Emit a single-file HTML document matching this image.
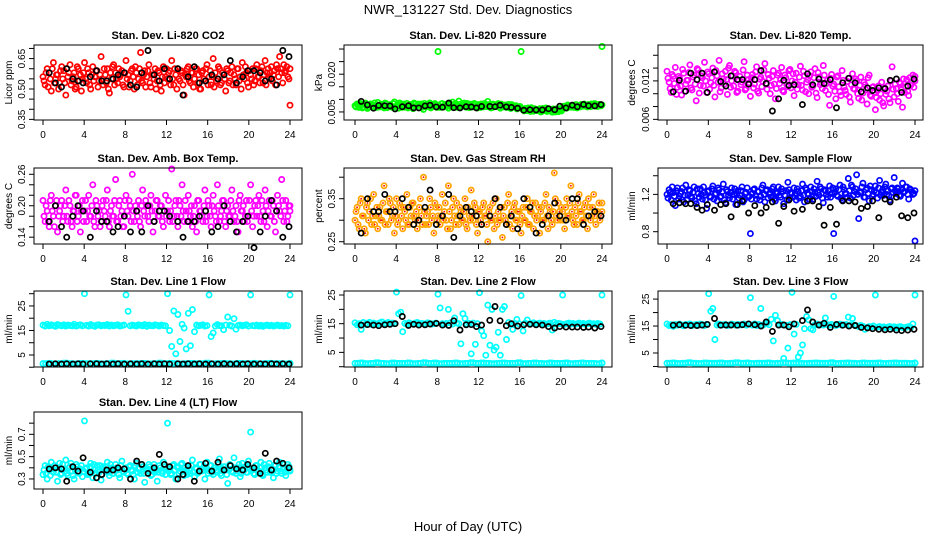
<!DOCTYPE html>
<html><head><meta charset="utf-8"><style>
html,body{margin:0;padding:0;background:#fff;}
svg{display:block;font-family:"Liberation Sans",sans-serif;}
</style></head><body>
<svg id="chart" width="936" height="540" viewBox="0 0 936 540" xmlns="http://www.w3.org/2000/svg">
<rect x="0" y="0" width="936" height="540" fill="#fff"/>
<text x="468" y="14" text-anchor="middle" font-size="13">NWR_131227  Std. Dev. Diagnostics</text>
<text x="468" y="531" text-anchor="middle" font-size="13">Hour of Day (UTC)</text>
</svg>
<script>
const blackHours=[0.6,1.2,1.8,2.3,2.9,3.4,3.9,4.6,5.2,5.7,6.2,6.8,7.3,7.9,8.5,9.1,9.6,10.2,10.8,11.3,11.8,12.3,13.1,13.6,14.1,14.7,15.2,15.8,16.4,17.0,17.6,18.2,18.8,19.4,19.9,20.5,21.1,21.6,22.2,22.7,23.3,23.9];
const xTicks=[0,4,8,12,16,20,24];

const co2Main=[0.56,0.52,0.60,0.58,0.49,0.63,0.55,0.57,0.53,0.61,0.59,0.47,0.56,0.62,0.54,0.58,0.51,0.60,0.57,0.55,0.63,0.53,0.58,0.50,0.61,0.56,0.59,0.54,0.66,0.52,0.57,0.60,0.48,0.55,0.62,0.58,0.53,0.56,0.59,0.51,0.64,0.57,0.54,0.60,0.50,0.58,0.55,0.68,0.53,0.59,0.56,0.62,0.51,0.57,0.60,0.54,0.58,0.49,0.61,0.56,0.55,0.59,0.64,0.52,0.57,0.60,0.54,0.58,0.47,0.56,0.61,0.53,0.58,0.55,0.60,0.57,0.50,0.59,0.54,0.62,0.56,0.52,0.65,0.58,0.55,0.60,0.53,0.57,0.49,0.59,0.54,0.61,0.57,0.52,0.60,0.56,0.63,0.55,0.58,0.51,0.57,0.60,0.54,0.62,0.56,0.59,0.53,0.64,0.58,0.55,0.61,0.57,0.52,0.60,0.66,0.58,0.62,0.59,0.56,0.42];
const co2Extra=[0.54,0.58,0.51,0.55,0.60,0.53,0.57,0.50,0.59,0.55,0.53,0.60,0.58,0.52,0.56,0.50,0.61,0.54,0.49,0.58,0.55,0.60,0.52,0.57,0.54,0.59,0.51,0.57,0.55,0.60,0.53,0.50,0.58,0.61,0.52,0.55,0.60,0.57,0.52,0.58,0.55,0.51,0.59,0.56,0.61,0.52,0.60,0.54,0.57,0.51,0.59,0.53,0.57,0.55,0.50,0.59,0.52,0.56,0.53,0.60,0.58,0.52,0.55,0.60,0.50,0.55,0.59,0.52,0.57,0.60,0.54,0.58,0.51,0.60,0.53,0.50,0.58,0.55,0.60,0.52,0.59,0.56,0.51,0.54,0.61,0.52,0.58,0.55,0.60,0.53,0.58,0.52,0.55,0.60,0.54,0.50,0.57,0.61,0.53,0.59,0.55,0.52,0.60,0.56,0.53,0.61,0.57,0.52,0.60,0.58,0.54,0.59,0.62,0.56,0.60,0.53,0.58,0.61,0.55,0.60];
const co2Black=[0.58,0.53,0.51,0.60,0.55,0.54,0.53,0.56,0.59,0.54,0.54,0.55,0.57,0.58,0.52,0.51,0.58,0.69,0.57,0.54,0.60,0.55,0.60,0.47,0.56,0.61,0.53,0.54,0.57,0.55,0.57,0.64,0.53,0.56,0.59,0.59,0.58,0.54,0.55,0.52,0.69,0.66];

const presMain=[0.0075,0.0082,0.0068,0.0079,0.0071,0.0085,0.0064,0.0077,0.0080,0.0069,0.0074,0.0088,0.0070,0.0078,0.0066,0.0083,0.0073,0.0079,0.0068,0.0090,0.0072,0.0065,0.0080,0.0076,0.0069,0.0084,0.0071,0.0078,0.0063,0.0081,0.0075,0.0067,0.0082,0.0060,0.0077,0.0072,0.0086,0.0070,0.0074,0.0079,0.0290,0.0068,0.0083,0.0073,0.0078,0.0065,0.0081,0.0089,0.0071,0.0076,0.0093,0.0069,0.0079,0.0074,0.0084,0.0067,0.0077,0.0072,0.0080,0.0066,0.0075,0.0082,0.0070,0.0078,0.0092,0.0073,0.0067,0.0079,0.0071,0.0083,0.0065,0.0076,0.0072,0.0068,0.0080,0.0064,0.0074,0.0070,0.0062,0.0069,0.0290,0.0058,0.0064,0.0055,0.0061,0.0067,0.0053,0.0060,0.0057,0.0063,0.0052,0.0059,0.0066,0.0054,0.0061,0.0049,0.0056,0.0062,0.0051,0.0058,0.0068,0.0072,0.0065,0.0074,0.0069,0.0077,0.0071,0.0066,0.0075,0.0080,0.0073,0.0078,0.0070,0.0076,0.0082,0.0074,0.0079,0.0072,0.0077,0.0310];
const presExtra=[0.0070,0.0078,0.0084,0.0066,0.0080,0.0074,0.0069,0.0082,0.0072,0.0086,0.0068,0.0076,0.0081,0.0071,0.0085,0.0067,0.0078,0.0072,0.0083,0.0070,0.0079,0.0086,0.0068,0.0081,0.0074,0.0066,0.0080,0.0071,0.0085,0.0073,0.0081,0.0076,0.0069,0.0084,0.0071,0.0080,0.0066,0.0078,0.0083,0.0068,0.0075,0.0082,0.0069,0.0079,0.0072,0.0086,0.0070,0.0077,0.0083,0.0068,0.0080,0.0074,0.0085,0.0069,0.0076,0.0081,0.0070,0.0084,0.0073,0.0079,0.0068,0.0076,0.0083,0.0071,0.0079,0.0066,0.0081,0.0072,0.0077,0.0069,0.0081,0.0070,0.0078,0.0073,0.0067,0.0079,0.0069,0.0075,0.0066,0.0072,0.0062,0.0054,0.0060,0.0066,0.0052,0.0058,0.0063,0.0055,0.0061,0.0050,0.0064,0.0056,0.0052,0.0060,0.0055,0.0062,0.0050,0.0057,0.0063,0.0054,0.0073,0.0066,0.0078,0.0070,0.0075,0.0068,0.0079,0.0073,0.0070,0.0077,0.0081,0.0072,0.0079,0.0071,0.0077,0.0083,0.0073,0.0080,0.0074,0.0078];
const presBlack=[0.0092,0.0078,0.0065,0.0076,0.0075,0.0074,0.0062,0.0071,0.0075,0.0066,0.0066,0.0074,0.0077,0.0070,0.0069,0.0085,0.0067,0.0066,0.0071,0.0070,0.0066,0.0072,0.0072,0.0071,0.0077,0.0070,0.0068,0.0065,0.0057,0.0059,0.0058,0.0058,0.0063,0.0059,0.0073,0.0066,0.0077,0.0071,0.0080,0.0075,0.0074,0.0079];

const tempMain=[0.0135,0.0118,0.0102,0.0127,0.0141,0.0110,0.0124,0.0098,0.0132,0.0115,0.0121,0.0145,0.0106,0.0129,0.0089,0.0137,0.0113,0.0125,0.0149,0.0102,0.0131,0.0117,0.0140,0.0095,0.0128,0.0152,0.0109,0.0123,0.0135,0.0099,0.0144,0.0120,0.0112,0.0133,0.0104,0.0127,0.0118,0.0150,0.0108,0.0122,0.0096,0.0130,0.0115,0.0142,0.0101,0.0126,0.0119,0.0147,0.0107,0.0124,0.0113,0.0136,0.0092,0.0129,0.0116,0.0141,0.0103,0.0125,0.0111,0.0138,0.0120,0.0097,0.0132,0.0114,0.0143,0.0106,0.0128,0.0118,0.0100,0.0134,0.0112,0.0139,0.0094,0.0126,0.0117,0.0144,0.0105,0.0121,0.0082,0.0130,0.0115,0.0092,0.0128,0.0103,0.0136,0.0110,0.0099,0.0124,0.0087,0.0131,0.0107,0.0120,0.0093,0.0126,0.0101,0.0114,0.0084,0.0129,0.0096,0.0111,0.0075,0.0105,0.0090,0.0118,0.0081,0.0099,0.0112,0.0086,0.0142,0.0095,0.0108,0.0088,0.0116,0.0079,0.0102,0.0122,0.0097,0.0113,0.0129,0.0120];
const tempExtra=[0.0124,0.0108,0.0130,0.0116,0.0099,0.0127,0.0112,0.0138,0.0104,0.0121,0.0133,0.0109,0.0126,0.0115,0.0139,0.0101,0.0128,0.0112,0.0120,0.0134,0.0107,0.0125,0.0113,0.0136,0.0118,0.0103,0.0131,0.0115,0.0122,0.0140,0.0110,0.0128,0.0135,0.0102,0.0121,0.0114,0.0137,0.0106,0.0129,0.0117,0.0125,0.0109,0.0134,0.0104,0.0123,0.0111,0.0137,0.0116,0.0130,0.0100,0.0127,0.0115,0.0108,0.0132,0.0122,0.0105,0.0129,0.0114,0.0136,0.0109,0.0131,0.0118,0.0107,0.0126,0.0113,0.0135,0.0103,0.0122,0.0128,0.0110,0.0125,0.0101,0.0133,0.0114,0.0108,0.0129,0.0116,0.0099,0.0124,0.0112,0.0104,0.0126,0.0111,0.0097,0.0121,0.0105,0.0119,0.0095,0.0114,0.0108,0.0123,0.0100,0.0113,0.0090,0.0118,0.0106,0.0125,0.0098,0.0110,0.0102,0.0094,0.0112,0.0100,0.0086,0.0109,0.0104,0.0092,0.0120,0.0107,0.0115,0.0100,0.0118,0.0106,0.0123,0.0111,0.0104,0.0125,0.0117,0.0110,0.0127];
const tempBlack=[0.0103,0.0121,0.0104,0.0132,0.0122,0.0132,0.0102,0.0134,0.0119,0.0112,0.0128,0.0122,0.0122,0.0115,0.0122,0.0136,0.0116,0.0073,0.0092,0.0121,0.0113,0.0114,0.0083,0.0131,0.0114,0.0123,0.0116,0.0122,0.0078,0.0117,0.0124,0.0117,0.0103,0.0109,0.0105,0.0109,0.0108,0.0121,0.0123,0.0102,0.0112,0.0123];

const ambMain=[0.21,0.17,0.19,0.16,0.22,0.18,0.20,0.15,0.19,0.21,0.18,0.23,0.17,0.20,0.16,0.19,0.22,0.18,0.15,0.21,0.19,0.17,0.22,0.18,0.24,0.16,0.20,0.19,0.17,0.21,0.18,0.23,0.16,0.20,0.18,0.25,0.17,0.21,0.19,0.16,0.22,0.18,0.20,0.26,0.17,0.19,0.21,0.16,0.23,0.18,0.20,0.17,0.22,0.15,0.19,0.21,0.18,0.20,0.16,0.22,0.19,0.17,0.27,0.18,0.21,0.16,0.20,0.24,0.17,0.19,0.22,0.18,0.16,0.20,0.15,0.21,0.19,0.17,0.23,0.18,0.20,0.16,0.22,0.18,0.24,0.17,0.19,0.21,0.16,0.20,0.18,0.23,0.17,0.20,0.15,0.22,0.19,0.17,0.21,0.18,0.24,0.16,0.20,0.18,0.22,0.17,0.19,0.23,0.16,0.21,0.18,0.20,0.15,0.22,0.19,0.25,0.17,0.21,0.18,0.20];
const ambExtra=[0.18,0.20,0.17,0.21,0.19,0.16,0.21,0.18,0.20,0.17,0.20,0.18,0.21,0.17,0.19,0.22,0.17,0.20,0.19,0.17,0.21,0.19,0.18,0.20,0.17,0.21,0.18,0.16,0.20,0.19,0.21,0.17,0.19,0.18,0.21,0.17,0.20,0.18,0.16,0.21,0.19,0.21,0.17,0.19,0.20,0.18,0.17,0.20,0.19,0.21,0.18,0.20,0.19,0.17,0.21,0.18,0.20,0.17,0.19,0.18,0.21,0.19,0.17,0.20,0.18,0.21,0.18,0.19,0.21,0.17,0.19,0.20,0.18,0.17,0.21,0.19,0.18,0.20,0.17,0.21,0.18,0.20,0.19,0.17,0.20,0.18,0.21,0.17,0.19,0.18,0.21,0.19,0.18,0.17,0.21,0.19,0.20,0.18,0.17,0.21,0.19,0.18,0.21,0.20,0.18,0.21,0.17,0.20,0.19,0.18,0.21,0.17,0.19,0.20,0.18,0.21,0.19,0.17,0.20,0.19];
const ambBlack=[0.17,0.20,0.16,0.14,0.18,0.20,0.19,0.14,0.19,0.17,0.17,0.15,0.16,0.18,0.15,0.19,0.15,0.20,0.17,0.19,0.19,0.18,0.17,0.14,0.17,0.17,0.18,0.19,0.15,0.16,0.20,0.17,0.15,0.17,0.18,0.12,0.15,0.18,0.21,0.19,0.14,0.16];

const rhMain=[0.30,0.33,0.28,0.35,0.31,0.27,0.34,0.32,0.29,0.36,0.31,0.28,0.33,0.30,0.38,0.32,0.29,0.34,0.31,0.27,0.35,0.30,0.33,0.28,0.32,0.36,0.29,0.31,0.34,0.30,0.28,0.33,0.31,0.40,0.29,0.32,0.35,0.30,0.27,0.33,0.31,0.29,0.36,0.32,0.30,0.38,0.28,0.33,0.31,0.34,0.29,0.32,0.30,0.35,0.28,0.31,0.37,0.30,0.33,0.27,0.32,0.29,0.34,0.31,0.25,0.33,0.30,0.28,0.35,0.32,0.30,0.26,0.33,0.29,0.36,0.31,0.28,0.34,0.30,0.32,0.27,0.33,0.30,0.35,0.29,0.32,0.28,0.34,0.31,0.27,0.33,0.30,0.36,0.28,0.32,0.29,0.41,0.31,0.34,0.30,0.32,0.28,0.35,0.31,0.38,0.30,0.33,0.29,0.36,0.32,0.30,0.34,0.28,0.33,0.31,0.36,0.29,0.32,0.30,0.34];
const rhExtra=[0.32,0.29,0.34,0.31,0.28,0.33,0.30,0.35,0.31,0.29,0.33,0.31,0.30,0.34,0.29,0.32,0.35,0.30,0.33,0.31,0.29,0.34,0.31,0.33,0.30,0.29,0.33,0.34,0.31,0.32,0.30,0.35,0.29,0.32,0.31,0.29,0.33,0.31,0.34,0.30,0.33,0.31,0.30,0.34,0.28,0.32,0.30,0.35,0.29,0.31,0.33,0.30,0.32,0.29,0.33,0.30,0.31,0.34,0.29,0.32,0.30,0.33,0.31,0.29,0.32,0.30,0.34,0.31,0.29,0.30,0.33,0.31,0.30,0.34,0.29,0.32,0.33,0.30,0.32,0.29,0.31,0.30,0.33,0.29,0.32,0.34,0.31,0.30,0.33,0.32,0.30,0.34,0.31,0.33,0.30,0.32,0.35,0.30,0.32,0.33,0.30,0.33,0.31,0.34,0.32,0.29,0.31,0.34,0.32,0.30,0.33,0.31,0.35,0.30,0.33,0.31,0.32,0.34,0.31,0.32];
const rhBlack=[0.27,0.35,0.32,0.32,0.36,0.32,0.32,0.35,0.33,0.29,0.30,0.33,0.37,0.29,0.31,0.36,0.26,0.31,0.33,0.32,0.31,0.29,0.31,0.35,0.33,0.29,0.31,0.28,0.35,0.33,0.27,0.29,0.31,0.34,0.31,0.30,0.35,0.35,0.29,0.31,0.32,0.31];

const flowMain=[1.20,1.25,1.14,1.22,1.08,1.27,1.18,1.23,1.12,1.30,1.19,1.24,1.16,1.28,1.10,1.21,1.26,1.15,1.22,1.05,1.24,1.17,1.29,1.20,1.13,1.25,1.18,1.31,1.11,1.23,1.16,1.27,1.20,1.09,1.24,1.19,1.28,1.14,1.22,1.17,0.78,1.21,1.26,1.15,1.23,1.18,1.30,1.12,1.25,1.20,1.17,1.28,1.13,1.22,1.19,1.26,1.10,1.24,1.33,1.16,1.21,1.27,1.14,1.23,1.18,1.31,1.12,1.25,1.20,1.28,1.15,1.22,1.34,1.19,1.26,1.11,1.24,1.17,1.29,1.21,0.78,1.26,1.18,1.30,1.14,1.25,1.21,1.37,1.16,1.28,1.23,1.41,0.94,1.22,1.32,1.17,1.27,1.13,1.25,1.20,1.29,1.16,1.35,1.22,1.19,1.31,1.24,1.14,1.27,1.38,1.21,1.26,1.18,1.32,1.23,1.28,1.15,1.25,1.20,0.70];
const flowExtra=[1.16,1.22,1.28,1.18,1.24,1.15,1.21,1.27,1.19,1.14,1.25,1.18,1.22,1.13,1.26,1.17,1.20,1.28,1.14,1.23,1.18,1.26,1.15,1.21,1.27,1.17,1.23,1.14,1.25,1.19,1.22,1.15,1.26,1.20,1.16,1.24,1.12,1.21,1.27,1.18,1.15,1.25,1.19,1.23,1.14,1.27,1.20,1.24,1.16,1.22,1.26,1.15,1.21,1.28,1.17,1.23,1.19,1.14,1.25,1.22,1.17,1.21,1.26,1.16,1.24,1.19,1.27,1.21,1.15,1.23,1.26,1.18,1.22,1.28,1.16,1.25,1.20,1.24,1.17,1.27,1.22,1.19,1.25,1.16,1.28,1.21,1.17,1.24,1.30,1.19,1.26,1.20,1.22,1.28,1.17,1.25,1.21,1.29,1.18,1.24,1.22,1.27,1.19,1.25,1.28,1.20,1.18,1.26,1.22,1.24,1.27,1.19,1.25,1.22,1.28,1.20,1.26,1.23,1.21,1.24];
const flowBlack=[1.10,1.11,1.10,1.10,1.06,1.03,1.09,1.03,1.09,1.10,0.96,1.09,1.13,1.00,1.08,1.00,1.06,1.12,0.89,1.07,1.14,1.02,1.04,1.13,1.13,1.07,0.87,1.06,0.88,1.13,1.13,1.12,1.05,1.07,1.13,0.95,1.15,1.12,1.17,0.97,0.95,1.00];

const line1Main=[17.2,16.8,17.5,16.9,17.3,17.0,16.7,17.4,17.1,16.9,17.3,16.8,17.2,17.0,16.9,17.5,16.8,17.1,17.3,16.9,30.0,17.1,16.8,17.4,17.0,16.7,17.2,17.3,16.9,17.1,17.0,17.4,16.8,17.2,16.9,17.1,17.3,16.8,17.0,17.2,29.5,22.8,16.9,17.2,17.0,16.8,17.3,17.1,16.9,17.4,16.7,17.2,17.0,16.9,17.3,17.1,16.8,17.2,17.0,16.9,30.0,15.0,8.5,23.0,5.5,21.5,10.5,17.5,16.0,7.5,22.0,8.8,23.5,14.5,17.2,16.9,17.1,17.3,16.8,17.0,29.5,12.5,14.0,16.8,17.4,17.0,16.9,15.3,17.2,20.5,17.1,16.8,19.8,15.5,17.0,17.2,16.9,17.1,17.3,16.8,29.5,17.0,16.9,17.2,16.8,17.1,16.7,17.0,17.2,16.9,17.1,16.8,17.0,17.2,16.9,17.0,16.8,17.1,16.9,29.5];
const line1Low=[1.5,1.6,1.4,1.5,1.7,1.5,1.4,1.6,1.5,1.5,1.6,1.4,1.5,1.7,1.5,1.6,1.4,1.5,1.5,1.6,1.4,1.5,1.7,1.5,1.6,1.5,1.4,1.5,1.6,1.5,1.5,1.7,1.4,1.5,1.6,1.5,1.4,1.6,1.5,1.5,1.6,1.4,1.5,1.6,1.5,1.5,1.4,1.6];
const line1Black=[1.3,1.4,1.3,1.4,1.3,1.4,1.3,1.4,1.4,1.3,1.4,1.3,1.4,1.3,1.4,1.3,1.4,1.3,1.4,1.3,1.4,1.3,1.4,1.3,1.4,1.3,1.4,1.3,1.4,1.3,1.4,1.3,1.4,1.3,1.4,1.3,1.4,1.3,1.4,1.3,1.4,1.3];

const line2Main=[15.3,14.6,15.0,13.0,15.4,14.8,15.1,15.5,14.7,15.2,15.0,14.9,15.3,15.6,14.8,15.1,15.4,14.9,15.2,15.0,26.0,18.5,19.0,12.2,15.1,14.8,15.3,15.0,14.9,15.2,15.4,14.8,15.1,15.0,14.7,15.3,15.1,14.9,15.0,15.2,25.3,20.5,15.0,14.8,15.1,20.0,15.3,14.9,17.0,15.2,15.0,8.0,18.5,16.8,14.8,15.1,4.5,15.2,7.8,15.0,25.8,12.5,10.8,4.0,21.5,7.5,20.0,5.8,6.8,12.0,4.0,20.0,21.0,9.5,15.4,14.8,13.0,15.1,16.5,15.0,24.8,12.5,15.2,16.3,14.9,15.1,15.3,14.8,15.0,15.2,14.9,15.1,14.8,15.0,15.2,12.8,15.5,14.9,15.1,15.0,25.0,14.8,15.0,15.2,14.9,15.1,14.8,15.0,15.2,14.9,15.1,14.8,15.0,15.2,14.9,15.0,14.8,15.1,14.9,25.0];
const line2Low=[1.2,1.3,1.1,1.2,1.4,1.2,1.1,1.3,1.2,1.2,1.3,1.1,1.2,1.4,1.2,1.3,1.1,1.2,1.2,1.3,1.1,1.2,1.4,1.2,1.3,1.2,1.1,1.2,1.3,1.2,1.2,1.4,1.1,1.2,1.3,1.2,1.1,1.3,1.2,1.2,1.3,1.1,1.2,1.3,1.2,1.2,1.1,1.3];
const line2Black=[14.5,14.7,14.5,14.3,14.6,14.8,15.0,17.5,14.4,14.8,14.5,14.6,14.9,15.1,14.5,14.4,16.0,12.8,14.6,14.7,14.0,14.5,16.2,21.0,16.0,14.3,15.0,14.2,14.6,14.8,14.6,14.5,14.0,13.5,14.0,13.8,13.8,13.8,13.7,13.8,13.5,14.0];

const line3Main=[15.8,15.2,15.5,14.9,15.6,15.3,15.7,15.4,15.1,15.6,15.5,15.8,15.2,15.4,15.6,15.3,15.7,15.5,15.2,15.6,27.0,20.5,21.5,10.0,15.4,15.7,15.3,15.5,15.6,15.2,15.4,15.7,15.5,15.3,15.6,15.4,15.5,15.7,15.3,15.6,25.5,15.4,15.8,15.2,15.6,21.5,15.3,15.7,16.0,15.5,17.5,9.5,19.0,17.0,15.4,15.6,3.0,15.3,6.8,15.5,27.5,12.0,15.6,3.5,5.0,8.0,14.0,18.5,17.3,14.0,13.6,15.5,15.7,15.3,15.6,15.4,18.0,15.5,15.3,15.6,26.0,15.2,15.5,15.7,15.3,15.5,15.6,18.3,15.4,17.8,15.3,15.1,14.8,15.2,14.9,13.8,14.5,14.8,14.6,15.0,26.5,14.6,14.8,14.5,14.7,14.4,14.6,14.8,14.5,14.7,14.3,14.6,14.8,14.5,14.4,14.6,14.8,14.5,15.8,26.5];
const line3Low=[1.2,1.3,1.1,1.2,1.4,1.2,1.1,1.3,1.2,1.2,1.3,1.1,1.2,1.4,1.2,1.3,1.1,1.2,1.2,1.3,1.1,1.2,1.4,1.2,1.3,1.2,1.1,1.2,1.3,1.2,1.2,1.4,1.1,1.2,1.3,1.2,1.1,1.3,1.2,1.2,1.3,1.1,1.2,1.3,1.2,1.2,1.1,1.3];
const line3Black=[15.3,15.5,15.3,15.2,15.2,15.4,15.6,17.8,15.3,15.4,15.4,15.3,15.5,15.8,15.5,15.0,16.5,13.0,15.4,15.4,14.7,15.8,17.0,21.0,16.5,15.4,16.0,14.5,15.6,15.3,15.0,15.2,14.5,14.3,14.0,13.8,13.6,13.8,13.5,13.3,13.5,13.8];

const line4Main=[0.34,0.42,0.30,0.38,0.45,0.36,0.40,0.28,0.44,0.35,0.39,0.47,0.33,0.41,0.37,0.30,0.43,0.36,0.39,0.32,0.82,0.40,0.35,0.44,0.31,0.38,0.42,0.36,0.29,0.41,0.37,0.45,0.33,0.40,0.35,0.43,0.38,0.31,0.46,0.36,0.40,0.34,0.42,0.37,0.30,0.44,0.39,0.35,0.41,0.27,0.38,0.43,0.33,0.40,0.36,0.28,0.42,0.37,0.45,0.34,0.80,0.39,0.35,0.43,0.30,0.40,0.37,0.44,0.33,0.38,0.41,0.35,0.47,0.32,0.39,0.36,0.43,0.38,0.30,0.45,0.37,0.42,0.34,0.40,0.36,0.48,0.33,0.41,0.38,0.26,0.43,0.37,0.49,0.35,0.40,0.32,0.44,0.38,0.36,0.46,0.72,0.39,0.34,0.42,0.37,0.45,0.33,0.40,0.36,0.44,0.38,0.31,0.42,0.37,0.45,0.35,0.40,0.33,0.43,0.38];
const line4Extra=[0.38,0.35,0.41,0.33,0.39,0.42,0.36,0.40,0.34,0.43,0.37,0.35,0.40,0.44,0.33,0.38,0.41,0.35,0.42,0.37,0.39,0.34,0.41,0.36,0.43,0.35,0.38,0.42,0.34,0.39,0.41,0.36,0.43,0.35,0.38,0.40,0.34,0.42,0.37,0.39,0.35,0.41,0.38,0.34,0.42,0.36,0.40,0.43,0.35,0.39,0.37,0.41,0.34,0.43,0.38,0.36,0.40,0.35,0.41,0.39,0.37,0.34,0.42,0.38,0.41,0.35,0.43,0.37,0.40,0.34,0.38,0.42,0.36,0.40,0.35,0.43,0.37,0.41,0.39,0.35,0.42,0.36,0.40,0.38,0.43,0.35,0.39,0.41,0.34,0.38,0.42,0.36,0.40,0.37,0.43,0.35,0.39,0.41,0.36,0.40,0.38,0.35,0.42,0.37,0.40,0.34,0.43,0.38,0.41,0.36,0.39,0.42,0.35,0.40,0.37,0.43,0.36,0.39,0.41,0.37];
const line4Black=[0.39,0.40,0.39,0.28,0.41,0.37,0.49,0.36,0.31,0.34,0.38,0.38,0.40,0.39,0.30,0.46,0.43,0.35,0.40,0.52,0.43,0.41,0.30,0.34,0.42,0.28,0.37,0.44,0.37,0.45,0.38,0.42,0.39,0.38,0.43,0.40,0.35,0.53,0.38,0.46,0.44,0.40];

const svg=document.getElementById('chart');
const NS='http://www.w3.org/2000/svg';
const cols=[{l:34,r:302,x0:43,x1:290,tl:8},{l:344,r:612,x0:355,x1:602,tl:318},{l:658,r:923,x0:667,x1:915,tl:631}];
const rows=[{t:45,b:120},{t:168,b:244},{t:291,b:367},{t:412,b:489}];
function mk(tag,attrs,parent){const e=document.createElementNS(NS,tag);for(const k in attrs)e.setAttribute(k,attrs[k]);(parent||svg).appendChild(e);return e;}

const panels=[
 {id:'co2',title:'Stan. Dev. Li-820 CO2',yt:'Licor ppm',c:0,r:0,dom:[0.347,0.717],ticks:[0.35,0.40,0.45,0.50,0.55,0.60,0.65,0.70],labs:['0.35','0.50','0.65'],series:[{v:co2Main,col:'#ff0000'},{v:co2Extra,col:'#ff0000',off:0.1},{v:co2Black,col:'#000',hrs:blackHours}]},
 {id:'pressure',title:'Stan. Dev. Li-820 Pressure',yt:'kPa',c:1,r:0,dom:[0.0018,0.0316],ticks:[0.005,0.010,0.015,0.020,0.025,0.030],labs:['0.005','0.020'],series:[{v:presMain,col:'#00ff00'},{v:presExtra,col:'#00ff00',off:0.1},{v:presBlack,col:'#000',hrs:blackHours}]},
 {id:'temp',title:'Stan. Dev. Li-820 Temp.',yt:'degrees C',c:2,r:0,dom:[0.0059,0.0176],ticks:[0.006,0.008,0.010,0.012,0.014,0.016],labs:['0.006','0.012'],series:[{v:tempMain,col:'#ff00ff'},{v:tempExtra,col:'#ff00ff',off:0.1},{v:tempBlack,col:'#000',hrs:blackHours}]},
 {id:'amb-box',title:'Stan. Dev. Amb. Box Temp.',yt:'degrees C',c:0,r:1,dom:[0.127,0.272],ticks:[0.14,0.16,0.18,0.20,0.22,0.24,0.26],labs:['0.14','0.20','0.26'],series:[{v:ambMain,col:'#ff00ff'},{v:ambExtra,col:'#ff00ff',off:0.1},{v:ambBlack,col:'#000',hrs:blackHours}]},
 {id:'rh',title:'Stan. Dev. Gas Stream RH',yt:'percent',c:1,r:1,dom:[0.2447,0.4214],ticks:[0.25,0.30,0.35,0.40],labs:['0.25','0.35'],series:[{v:rhMain,col:'#ffa500',dot:'#ff0000'},{v:rhExtra,col:'#ffa500',dot:'#ff0000',off:0.1},{v:rhBlack,col:'#000',hrs:blackHours}]},
 {id:'sample-flow',title:'Stan. Dev. Sample Flow',yt:'ml/min',c:2,r:1,dom:[0.668,1.483],ticks:[0.8,1.0,1.2,1.4],labs:['0.8','1.2'],series:[{v:flowMain,col:'#0000ff'},{v:flowExtra,col:'#0000ff',off:0.1},{v:flowBlack,col:'#000',hrs:blackHours}]},
 {id:'line1',title:'Stan. Dev. Line 1 Flow',yt:'ml/min',c:0,r:2,dom:[0.1,31.1],ticks:[0,5,10,15,20,25,30],labs:['5','15','25'],series:[{v:line1Low,col:'#00ffff'},{v:line1Low,col:'#00ffff',off:0.25},{v:line1Main,col:'#00ffff'},{v:line1Black,col:'#000',hrs:blackHours}]},
 {id:'line2',title:'Stan. Dev. Line 2 Flow',yt:'ml/min',c:1,r:2,dom:[-0.1,26.4],ticks:[0,5,10,15,20,25],labs:['5','15','25'],series:[{v:line2Low,col:'#00ffff'},{v:line2Low,col:'#00ffff',off:0.25},{v:line2Main,col:'#00ffff'},{v:line2Black,col:'#000',hrs:blackHours}]},
 {id:'line3',title:'Stan. Dev. Line 3 Flow',yt:'ml/min',c:2,r:2,dom:[-0.2,28],ticks:[0,5,10,15,20,25],labs:['5','15','25'],series:[{v:line3Low,col:'#00ffff'},{v:line3Low,col:'#00ffff',off:0.25},{v:line3Main,col:'#00ffff'},{v:line3Black,col:'#000',hrs:blackHours}]},
 {id:'line4',title:'Stan. Dev. Line 4 (LT) Flow',yt:'ml/min',c:0,r:3,dom:[0.21,0.90],ticks:[0.3,0.4,0.5,0.6,0.7,0.8],labs:['0.3','0.5','0.7'],series:[{v:line4Main,col:'#00ffff'},{v:line4Extra,col:'#00ffff',off:0.1},{v:line4Black,col:'#000',hrs:blackHours}]}
];

panels.forEach(p=>{
  const C=cols[p.c],R=rows[p.r];
  const g=mk('g',{});
  
  
  const xs=h=>C.x0+(h/24)*(C.x1-C.x0);
  const ys=v=>R.b-(v-p.dom[0])/(p.dom[1]-p.dom[0])*(R.b-R.t);
  const t=mk('text',{x:(C.l+C.r)/2,y:R.t-6,'text-anchor':'middle','font-size':'11','font-weight':'bold'},g);
  t.textContent=p.title;
  
  
  const clip=mk('g',{},g);
  
  
  p.series.forEach(s=>{
    const n=s.v.length;
    s.v.forEach((v,i)=>{
      let h=s.hrs?s.hrs[i]:(i*24/(n-1));
      if(s.off){h=Math.min(24,h+s.off);}
      const cx=xs(h),cy=ys(v);
      const c=mk('circle',{cx:cx.toFixed(1),cy:cy.toFixed(1),r:'2.6',fill:'none',stroke:s.col,'stroke-width':'1.7'},clip);
      
      
      if(s.dot){const d=mk('circle',{cx:cx.toFixed(1),cy:cy.toFixed(1),r:'0.9',fill:s.dot},clip);
        
        }
    });
  });
  const box=mk('rect',{x:C.l,y:R.t,width:C.r-C.l,height:R.b-R.t,fill:'none',stroke:'#000','stroke-width':'1'},g);
  
  
  xTicks.forEach(h=>{
    const x=xs(h);
    const tk=mk('line',{x1:x,x2:x,y1:R.b,y2:R.b+5,stroke:'#000'},g);
    
    
    const lb=mk('text',{x:x,y:R.b+18,'text-anchor':'middle','font-size':'10'},g);
    lb.textContent=String(h);
    
    
  });
  p.ticks.forEach(v=>{
    const y=ys(v);
    const tk=mk('line',{x1:C.l-5,x2:C.l,y1:y,y2:y,stroke:'#000'},g);
    
    
  });
  p.labs.forEach(s=>{
    const y=ys(parseFloat(s));const x=C.l-9;
    const lb=mk('text',{x:x,y:y,'text-anchor':'middle','font-size':'10',transform:`rotate(-90 ${x} ${y})`},g);
    lb.textContent=s;
    
    
  });
  const yx=C.tl+4, yy=(R.t+R.b)/2;
  const yt=mk('text',{x:yx,y:yy,'text-anchor':'middle','font-size':'10',transform:`rotate(-90 ${yx} ${yy})`},g);
  yt.textContent=p.yt;
  
  
});
</script>
</body></html>
